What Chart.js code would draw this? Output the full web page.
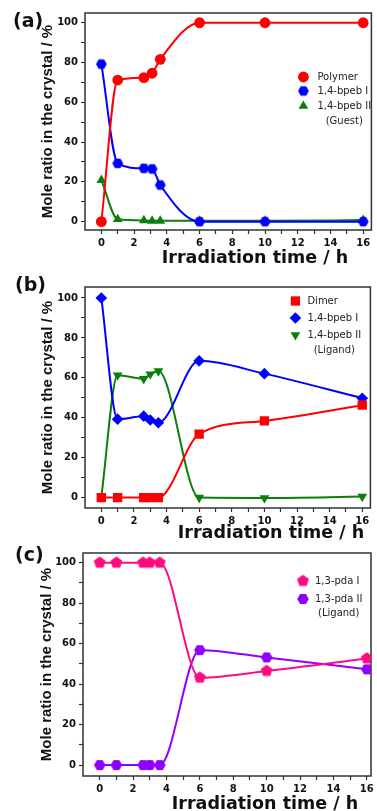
<!DOCTYPE html>
<html>
<head>
<meta charset="utf-8">
<script src="https://cdn.jsdelivr.net/npm/chart.js@4.4.1/dist/chart.umd.min.js"></script>
<style>
html, body { margin:0; padding:0; background:#fff; width:377px; height:811px; overflow:hidden; }
.panel { position:absolute; left:0; width:377px; }
.tag { position:absolute; font:bold 19px "DejaVu Sans"; line-height:19px; color:#111; }
</style>
</head>
<body>
<div class="panel" style="top:0;height:269px"><canvas id="chartA"></canvas></div>
<div class="panel" style="top:274px;height:270px"><canvas id="chartB"></canvas></div>
<div class="panel" style="top:540px;height:275px"><canvas id="chartC"></canvas></div>
<div class="tag" style="left:13px;top:11px">(a)</div>
<div class="tag" style="left:15px;top:275px">(b)</div>
<div class="tag" style="left:15px;top:545px">(c)</div>
<script>
// --- data ---
// (a) polymer crystal
const timeA = [0, 1, 2.6, 3.1, 3.6, 6, 10, 16];
const polymerA = [0, 71.2, 72.4, 74.6, 81.6, 100, 100, 100];
const bpebIA = [79.2, 29.3, 26.8, 26.5, 18.4, 0, 0, 0];
const bpebIIA = [20.9, 1.2, 0.6, 0.4, 0.4, 0.4, 0.4, 0.8];

// (b) dimer crystal
const timeB = [0, 1, 2.6, 3, 3.5, 6, 10, 16];
const dimerB = [0, 0, 0, 0, 0, 31.8, 38.4, 46.3];
const bpebIB = [100, 39.3, 40.8, 38.9, 37.5, 68.5, 62.1, 49.8];
const bpebIIB = [0.4, 61.3, 59.5, 61.8, 63.4, 0, -0.2, 0.5];

// (c) 1,3-pda crystal
const timeC = [0, 1, 2.6, 3, 3.6, 6, 10, 16];
const pdaIC = [100, 100, 100, 100, 100, 43.2, 46.5, 52.7];
const pdaIIC = [0, 0, 0, 0, 0, 56.8, 53.2, 47.3];

const xTicks = [0, 1, 2, 3, 4, 5, 6, 7, 8, 9, 10, 11, 12, 13, 14, 15, 16];
const yTicks = [0, 10, 20, 30, 40, 50, 60, 70, 80, 90, 100];

const RED = '#ff0000', BLUE = '#0000ff', GREEN = '#0a7f0a', PINK = '#ff0a80', PURPLE = '#8f00ff';

Chart.defaults.font.family = 'DejaVu Sans';
Chart.defaults.color = '#111';

// polygon markers (hexagon / pentagon) as small canvases
function polygon(sides, r, color, startDeg) {
    const c = document.createElement('canvas');
    const s = Math.ceil(2 * r + 2);
    c.width = s; c.height = s;
    const g = c.getContext('2d');
    g.fillStyle = color;
    g.beginPath();
    for (let k = 0; k < sides; k++) {
        const a = (startDeg + k * 360 / sides) * Math.PI / 180;
        const px = s / 2 + r * Math.cos(a), py = s / 2 + r * Math.sin(a);
        if (k === 0) g.moveTo(px, py); else g.lineTo(px, py);
    }
    g.closePath();
    g.fill();
    return c;
}

function pts(xs, ys) { return xs.map((x, i) => ({ x: x, y: ys[i] })); }

function series(label, xs, ys, color, style, radius, rotation) {
    return {
        label: label,
        data: pts(xs, ys),
        borderColor: color,
        backgroundColor: color,
        borderWidth: 2,
        pointStyle: style,
        pointRadius: radius,
        pointRotation: rotation || 0,
        pointBorderWidth: 0,
        pointBackgroundColor: color,
        cubicInterpolationMode: 'monotone'
    };
}

// box frame + x axis title (the title sits right of centre in the figure)
const framePlugin = {
    id: 'frame',
    beforeDatasetsDraw(chart, args, opts) {
        const { ctx, chartArea: a } = chart;
        ctx.save();
        ctx.strokeStyle = '#333';
        ctx.lineWidth = 1.5;
        ctx.strokeRect(a.left, a.top, a.right - a.left, a.bottom - a.top);
        ctx.fillStyle = '#111';
        ctx.font = 'bold 17.5px "DejaVu Sans"';
        ctx.textAlign = 'center';
        ctx.textBaseline = 'middle';
        ctx.fillText('Irradiation time / h', opts.titleX, a.bottom + opts.titleDy);
        ctx.restore();
    }
};

// legend drawn inside the plot area
const innerLegend = {
    id: 'innerLegend',
    afterDatasetsDraw(chart, args, opts) {
        const { ctx, chartArea: a } = chart;
        ctx.save();
        ctx.font = '10px "DejaVu Sans"';
        ctx.textBaseline = 'middle';
        let lastW = 0, lastX = 0;
        chart.data.datasets.forEach((ds, i) => {
            const y = a.top + opts.rows[i];
            const mx = a.right + opts.markerX;
            ctx.fillStyle = ds.backgroundColor;
            ctx.strokeStyle = ds.borderColor;
            Chart.helpers.drawPoint(ctx, {
                pointStyle: ds.pointStyle, rotation: ds.pointRotation,
                radius: ds.pointRadius, borderWidth: 0
            }, mx, y);
            ctx.fillStyle = '#222';
            ctx.textAlign = 'left';
            const tx = a.right + opts.textX;
            ctx.fillText(ds.label, tx, y);
            lastW = ctx.measureText(ds.label).width;
            lastX = tx;
        });
        if (opts.note) {
            ctx.textAlign = 'center';
            ctx.fillText(opts.note, lastX + lastW / 2, a.top + opts.noteY);
        }
        ctx.restore();
    }
};

function makeChart(id, datasets, cfg) {
    return new Chart(document.getElementById(id), {
        type: 'line',
        data: { datasets: datasets },
        options: {
            responsive: true,
            maintainAspectRatio: false,
            animation: false,
            layout: { padding: { top: 13, right: 1, left: 0, bottom: 0 } },
            plugins: {
                legend: { display: false },
                tooltip: { enabled: false },
                innerLegend: cfg.legend,
                frame: { titleX: cfg.titleX, titleDy: cfg.titleDy }
            },
            scales: {
                x: {
                    type: 'linear',
                    min: -1, max: cfg.xMax,
                    afterBuildTicks: s => { s.ticks = xTicks.map(v => ({ value: v })); },
                    afterFit: s => { s.height = cfg.xH; },
                    grid: { drawOnChartArea: false, tickLength: 4, tickColor: '#333', tickWidth: 1.2 },
                    border: { display: false },
                    ticks: {
                        padding: 3,
                        font: { size: 10, weight: 'bold' },
                        color: '#111',
                        maxRotation: 0,
                        autoSkip: false,
                        callback: v => (v % 2 === 0 ? v : '')
                    },
                    title: { display: false }
                },
                y: {
                    min: cfg.yMin, max: cfg.yMax,
                    afterBuildTicks: s => { s.ticks = yTicks.map(v => ({ value: v })); },
                    afterFit: s => { s.width = cfg.yW; },
                    grid: { drawOnChartArea: false, tickLength: 4, tickColor: '#333', tickWidth: 1.2 },
                    border: { display: false },
                    ticks: {
                        padding: 3,
                        font: { size: 10, weight: 'bold' },
                        color: '#111',
                        autoSkip: false,
                        callback: v => (v % 20 === 0 ? v : '')
                    },
                    title: {
                        display: true,
                        text: 'Mole ratio in the crystal / %',
                        font: { family: '"Liberation Sans"', size: 15, weight: 'bold', lineHeight: 1.2 },
                        color: '#111',
                        padding: { top: cfg.yTitlePad, bottom: 0 }
                    }
                }
            }
        },
        plugins: [framePlugin, innerLegend]
    });
}

// (a)
makeChart('chartA', [
    series('Polymer', timeA, polymerA, RED, 'circle', 5.4),
    series('1,4-bpeb I', timeA, bpebIA, BLUE, polygon(6, 5.4, BLUE, 0), 5.4),
    series('1,4-bpeb II', timeA, bpebIIA, GREEN, 'triangle', 5.6)
], {
    xMax: 16.5, yMin: -4.2, yMax: 104.9, xH: 39, yW: 85, yTitlePad: 39,
    titleX: 255, titleDy: 28,
    legend: { markerX: -68, textX: -54, rows: [64, 78, 93], note: '(Guest)', noteY: 108 }
});

// (b)
makeChart('chartB', [
    series('Dimer', timeB, dimerB, RED, 'rect', 6.6),
    series('1,4-bpeb I', timeB, bpebIB, BLUE, 'rectRot', 5.8),
    series('1,4-bpeb II', timeB, bpebIIB, GREEN, 'triangle', 5.6, 180)
], {
    xMax: 16.5, yMin: -5.2, yMax: 105.5, xH: 36, yW: 85, yTitlePad: 39,
    titleX: 271, titleDy: 25,
    legend: { markerX: -75, textX: -63, rows: [14, 31, 48], note: '(Ligand)', noteY: 63 }
});

// (c)
makeChart('chartC', [
    series('1,3-pda I', timeC, pdaIC, PINK, polygon(5, 6.2, PINK, -90), 6),
    series('1,3-pda II', timeC, pdaIIC, PURPLE, polygon(6, 5.8, PURPLE, 0), 5.8)
], {
    xMax: 16.25, yMin: -5.4, yMax: 104.8, xH: 39, yW: 83, yTitlePad: 38,
    titleX: 265, titleDy: 28,
    legend: { markerX: -68, textX: -56, rows: [28, 46], note: '(Ligand)', noteY: 60 }
});
</script>
</body>
</html>
